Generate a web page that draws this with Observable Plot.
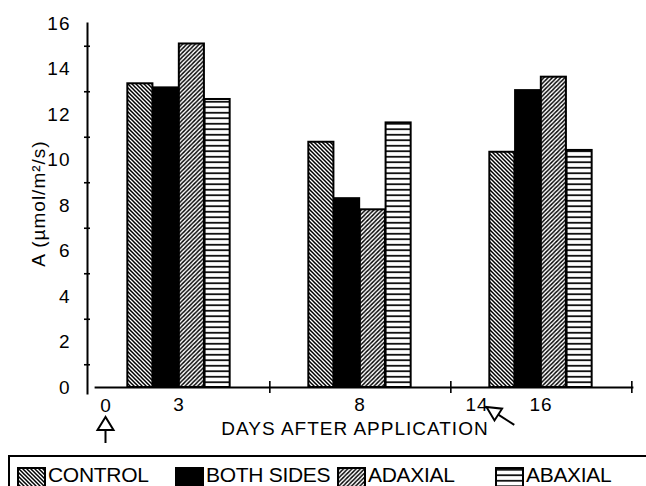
<!DOCTYPE html>
<html>
<head>
<meta charset="utf-8">
<script src="https://cdn.jsdelivr.net/npm/d3@7"></script>
<script src="https://cdn.jsdelivr.net/npm/@observablehq/plot@0.6"></script>
<style>
  html, body { margin: 0; padding: 0; background: #fff; }
  body { width: 646px; height: 486px; overflow: hidden; position: relative;
         font-family: "Liberation Sans", Arial, sans-serif; color: #000; }
  #chart svg { display: block; }
  #chart text { letter-spacing: 1px; }
  #chart text.ytitle { letter-spacing: 0.5px; }
  #legend { position: absolute; left: 8px; top: 455px; width: 700px; height: 50px;
            border: 2px solid #000; box-sizing: border-box; }
  .item { position: absolute; top: 8px; display: flex; align-items: flex-start; }
  .item svg { display: block; margin-top: 2px; }
  .item span { font-size: 21px; line-height: 20px; height: 20px; margin-left: 2px; letter-spacing: -0.3px; }
</style>
</head>
<body>
<svg width="0" height="0" style="position:absolute">
  <defs>
    <pattern id="pat-control" patternUnits="userSpaceOnUse" width="4" height="4">
      <path d="M-1,-1L5,5M-1,3L1,5M3,-1L5,1" stroke="#000" stroke-width="1.5"/>
    </pattern>
    <pattern id="pat-adaxial" patternUnits="userSpaceOnUse" width="4.2" height="4.2">
      <path d="M-1,5.2L5.2,-1M-1,1L1,-1M3.2,5.2L5.2,3.2" stroke="#000" stroke-width="1.4"/>
    </pattern>
    <pattern id="pat-abaxial" patternUnits="userSpaceOnUse" width="6" height="5.5">
      <path d="M0,2.75H6" stroke="#000" stroke-width="1.7"/>
    </pattern>
  </defs>
</svg>
<div id="chart"></div>
<div id="legend"></div>
<script>
// ---- data ----
const days = ["3", "8", "16"];
const treatments = ["CONTROL", "BOTH SIDES", "ADAXIAL", "ABAXIAL"];
const control   = [13.35, 10.78, 10.34];
const bothSides = [13.17, 8.30, 13.05];
const adaxial   = [15.10, 7.81, 13.64];
const abaxial   = [12.66, 11.63, 10.42];
const yLabelTicks = [0, 2, 4, 6, 8, 10, 12, 14, 16];
const yMinorTicks = [1, 3, 5, 7, 9, 11, 13, 15];
const applicationLabels = ["0", "14"];
const yTitle = "A (\u00b5mol/m\u00b2/s)";
const xTitle = "DAYS AFTER APPLICATION";

const series = [control, bothSides, adaxial, abaxial];
const fills = ["url(#pat-control)", "#000", "url(#pat-adaxial)", "url(#pat-abaxial)"];
const table = treatments.flatMap((t, j) => days.map((d, i) => ({day: d, treatment: t, j, value: series[j][i]})));

// ---- layout ----
const W = 646, H = 452;
const mL = 87, mR = 14, mT = 23, mB = 65;
const bw = (W - mL - mR) / days.length;   // band width
const barW = 25.75;

const barMarks = treatments.map((t, j) => Plot.barY(table.filter(r => r.j === j), {
  x: "day", y: "value",
  insetLeft: bw / 2 + (j - 2) * barW,
  insetRight: bw / 2 - (j - 1) * barW,
  fill: fills[j], stroke: "#000", strokeWidth: 2
}));

function arrowPath(tx, ty, ux, uy, len, hw, stem) {
  const n = Math.hypot(ux, uy); ux /= n; uy /= n;
  const px = -uy, py = ux;
  const bx = tx + ux * len, by = ty + uy * len;
  return {
    head: `M${tx},${ty}L${bx + px * hw},${by + py * hw}L${bx - px * hw},${by - py * hw}Z`,
    stem: `M${bx},${by}L${bx + ux * stem},${by + uy * stem}`
  };
}

function arrows(index, scales) {
  const sx = scales.x, sy = scales.y;
  const b = typeof sx.bandwidth === "function" ? sx.bandwidth() : sx.bandwidth;
  const y0 = sy(0);
  const x0 = sx(days[0]) + 17.5;        // day 0 marker
  const x14 = sx(days[2]) + b / 2 - 64; // day 14 marker
  const g = d3.create("svg:g").attr("fill", "#fff").attr("stroke", "#000").attr("stroke-width", 2);
  const a1 = arrowPath(x0, y0 + 30, 0, 1, 13, 8, 13);
  const a2 = arrowPath(x14 + 10, y0 + 20, 28, 18, 14, 7, 19);
  for (const a of [a1, a2]) {
    g.append("path").attr("d", a.stem).attr("fill", "none");
    g.append("path").attr("d", a.head);
  }
  return g.node();
}

const chart = Plot.plot({
  width: W, height: H,
  marginLeft: mL, marginRight: mR, marginTop: mT, marginBottom: mB,
  style: {fontFamily: '"Liberation Sans", Arial, sans-serif', fontSize: "19px", color: "#000", background: "#fff"},
  x: {type: "band", domain: days, padding: 0, axis: null},
  y: {domain: [0, 16], axis: null},
  marks: [
    ...barMarks,
    Plot.frame({anchor: "left", insetBottom: -6, strokeWidth: 2}),
    Plot.frame({anchor: "bottom", insetLeft: 8, strokeWidth: 1.8}),
    Plot.axisY({ticks: yLabelTicks, tickSize: 0, tickPadding: 17, fontSize: 19, label: null}),
    Plot.axisY({ticks: yMinorTicks, tickSize: 6, dx: 3, tickFormat: () => "", strokeWidth: 1.6, label: null}),
    Plot.ruleX(days, {x: d => d, y1: 0, y2: 0, insetTop: -6, insetBottom: -6, dx: bw / 2, strokeWidth: 1.6}),
    Plot.axisX({tickSize: 0, tickPadding: 10, fontSize: 19, label: null}),
    Plot.text([applicationLabels[0]], {x: () => days[0], y: () => 0, dx: -73, dy: 18, fontSize: 19}),
    Plot.text([applicationLabels[1]], {x: () => days[2], y: () => 0, dx: -64, dy: 17, fontSize: 19}),
    Plot.text([yTitle], {frameAnchor: "left", textAnchor: "middle", lineAnchor: "middle", rotate: -90, dx: -49, dy: -2, fontSize: 19, className: "ytitle"}),
    Plot.text([xTitle], {frameAnchor: "bottom", lineAnchor: "middle", dx: -5, dy: 41, fontSize: 19}),
    arrows
  ]
});
document.getElementById("chart").appendChild(chart);

// ---- legend ----
const legend = document.getElementById("legend");
const lefts = [7, 165, 327, 485];
treatments.forEach((t, j) => {
  const item = document.createElement("div");
  item.className = "item";
  item.style.left = lefts[j] + "px";
  item.innerHTML = `<svg width="29" height="22"><rect x="1" y="1" width="27" height="22" fill="${fills[j]}" stroke="#000" stroke-width="2"/></svg><span>${t}</span>`;
  legend.appendChild(item);
});
</script>
</body>
</html>
